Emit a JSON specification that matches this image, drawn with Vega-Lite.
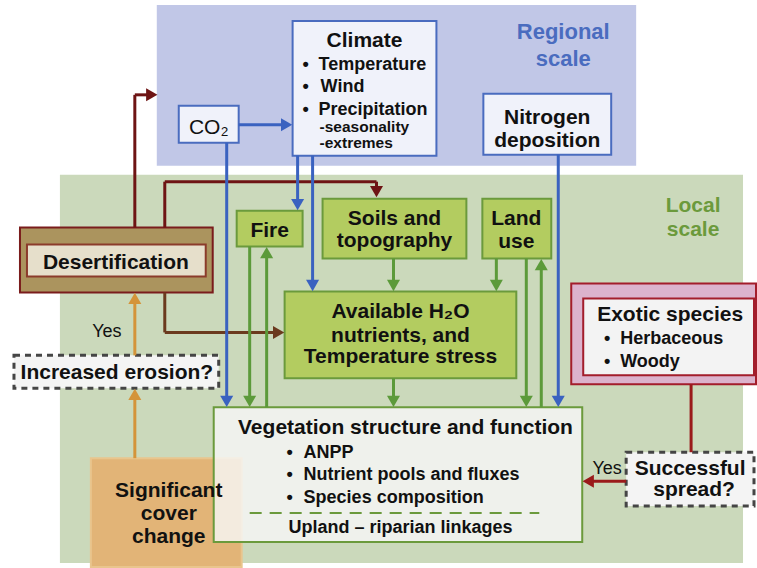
{
  "$schema": "https://vega.github.io/schema/vega-lite/v6.json",
  "width": 757,
  "height": 568,
  "autosize": {"type": "fit", "contains": "padding"},
  "padding": 0,
  "background": "white",
  "config": {"view": {"stroke": null}},
  "layer": [
    {
      "data": {"values": [
        {"name": "Regional scale", "kind": "regional", "x1": 158, "x2": 636, "y1": 6, "y2": 165},
        {"name": "Local scale", "kind": "local", "x1": 61, "x2": 743, "y1": 176, "y2": 563},
        {"name": "Climate", "kind": "blue", "x1": 293, "x2": 437, "y1": 21, "y2": 156},
        {"name": "CO2", "kind": "blue", "x1": 179, "x2": 239, "y1": 106, "y2": 143},
        {"name": "Nitrogen deposition", "kind": "blue", "x1": 484, "x2": 612, "y1": 94, "y2": 155},
        {"name": "Desertification outer", "kind": "desert_outer", "x1": 20, "x2": 213, "y1": 228, "y2": 293},
        {"name": "Desertification", "kind": "desert_inner", "x1": 27, "x2": 206, "y1": 245, "y2": 277},
        {"name": "Fire", "kind": "green", "x1": 237, "x2": 303, "y1": 211, "y2": 247},
        {"name": "Soils and topography", "kind": "green", "x1": 323, "x2": 467, "y1": 199, "y2": 259},
        {"name": "Land use", "kind": "green", "x1": 483, "x2": 552, "y1": 199, "y2": 259},
        {"name": "Available H2O", "kind": "green", "x1": 285, "x2": 517, "y1": 292, "y2": 379},
        {"name": "Exotic outer", "kind": "exotic_outer", "x1": 572, "x2": 757, "y1": 284, "y2": 385},
        {"name": "Exotic species", "kind": "exotic_inner", "x1": 584, "x2": 755, "y1": 299, "y2": 376},
        {"name": "Significant cover change", "kind": "orange", "x1": 91, "x2": 242, "y1": 459, "y2": 568}
      ]},
      "mark": {"type": "rect", "strokeWidth": 2},
      "encoding": {
        "x": {"field": "x1", "type": "quantitative", "scale": {"domain": [0, 757], "nice": false, "zero": false}, "axis": null},
        "x2": {"field": "x2"},
        "y": {"field": "y1", "type": "quantitative", "scale": {"domain": [0, 568], "nice": false, "zero": false, "reverse": true}, "axis": null},
        "y2": {"field": "y2"},
        "fill": {"field": "kind", "type": "nominal", "legend": null, "scale": {
          "domain": ["regional", "local", "blue", "desert_outer", "desert_inner", "green", "exotic_outer", "exotic_inner", "orange"],
          "range": ["#c1c7e7", "#cbd9bb", "#f0f2fa", "#ab945e", "#e6dfcb", "#b3cc60", "#dcb3cd", "#f3f3f3", "#e2b477"]}},
        "stroke": {"field": "kind", "type": "nominal", "legend": null, "scale": {
          "domain": ["regional", "local", "blue", "desert_outer", "desert_inner", "green", "exotic_outer", "exotic_inner", "orange"],
          "range": ["#c1c7e7", "#cbd9bb", "#4a6cbf", "#7a1c1c", "#8b3b2b", "#6b9a3c", "#a31d2b", "#a31d2b", "#e9c58d"]}}
      }
    },
    {
      "data": {"values": [
        {"name": "Vegetation structure and function", "x1": 214, "x2": 583, "y1": 408, "y2": 543}
      ]},
      "mark": {"type": "rect", "fill": "#f7f7f7", "fillOpacity": 0.82, "stroke": "#6b9a3c", "strokeWidth": 2},
      "encoding": {
        "x": {"field": "x1", "type": "quantitative", "scale": {"domain": [0, 757], "nice": false, "zero": false}, "axis": null},
        "x2": {"field": "x2"},
        "y": {"field": "y1", "type": "quantitative", "scale": {"domain": [0, 568], "nice": false, "zero": false, "reverse": true}, "axis": null},
        "y2": {"field": "y2"}
      }
    },
    {
      "data": {"values": [
        {"name": "Increased erosion?", "x1": 14, "x2": 219, "y1": 356, "y2": 389},
        {"name": "Successful spread?", "x1": 627, "x2": 755, "y1": 453, "y2": 507}
      ]},
      "mark": {"type": "rect", "fill": "#f4f4f4", "stroke": "#454545", "strokeWidth": 3, "strokeDash": [6, 5]},
      "encoding": {
        "x": {"field": "x1", "type": "quantitative", "scale": {"domain": [0, 757], "nice": false, "zero": false}, "axis": null},
        "x2": {"field": "x2"},
        "y": {"field": "y1", "type": "quantitative", "scale": {"domain": [0, 568], "nice": false, "zero": false, "reverse": true}, "axis": null},
        "y2": {"field": "y2"}
      }
    },
    {
      "data": {"values": [
        {"x1": 250, "x2": 540, "y1": 514, "y2": 514}
      ]},
      "mark": {"type": "rule", "stroke": "#6b9a3c", "strokeWidth": 2, "strokeDash": [12, 8]},
      "encoding": {
        "x": {"field": "x1", "type": "quantitative", "scale": {"domain": [0, 757], "nice": false, "zero": false}, "axis": null},
        "x2": {"field": "x2"},
        "y": {"field": "y1", "type": "quantitative", "scale": {"domain": [0, 568], "nice": false, "zero": false, "reverse": true}, "axis": null},
        "y2": {"field": "y2"}
      }
    },
    {
      "data": {"values": [
        {"c": "dred", "x1": 135, "y1": 228, "x2": 135, "y2": 95},
        {"c": "dred", "x1": 135, "y1": 95, "x2": 152, "y2": 95},
        {"c": "dred", "x1": 165, "y1": 228, "x2": 165, "y2": 182},
        {"c": "dred", "x1": 165, "y1": 182, "x2": 377, "y2": 182},
        {"c": "dred", "x1": 377, "y1": 182, "x2": 377, "y2": 192},
        {"c": "brown", "x1": 165, "y1": 293, "x2": 165, "y2": 333},
        {"c": "brown", "x1": 165, "y1": 333, "x2": 279, "y2": 333},
        {"c": "blue", "x1": 239, "y1": 125, "x2": 287, "y2": 125},
        {"c": "blue", "x1": 227, "y1": 143, "x2": 227, "y2": 402},
        {"c": "blue", "x1": 298, "y1": 156, "x2": 298, "y2": 205},
        {"c": "blue", "x1": 313, "y1": 156, "x2": 313, "y2": 286},
        {"c": "blue", "x1": 559, "y1": 155, "x2": 559, "y2": 402},
        {"c": "green", "x1": 250, "y1": 247, "x2": 250, "y2": 402},
        {"c": "green", "x1": 267, "y1": 408, "x2": 267, "y2": 253},
        {"c": "green", "x1": 394, "y1": 259, "x2": 394, "y2": 286},
        {"c": "green", "x1": 497, "y1": 259, "x2": 497, "y2": 286},
        {"c": "green", "x1": 527, "y1": 259, "x2": 527, "y2": 402},
        {"c": "green", "x1": 542, "y1": 408, "x2": 542, "y2": 265},
        {"c": "green", "x1": 394, "y1": 379, "x2": 394, "y2": 402},
        {"c": "orange", "x1": 135, "y1": 459, "x2": 135, "y2": 395},
        {"c": "orange", "x1": 135, "y1": 356, "x2": 135, "y2": 299},
        {"c": "red", "x1": 692, "y1": 385, "x2": 692, "y2": 453},
        {"c": "red", "x1": 627, "y1": 482, "x2": 589, "y2": 482}
      ]},
      "mark": {"type": "rule", "strokeWidth": 3},
      "encoding": {
        "x": {"field": "x1", "type": "quantitative", "scale": {"domain": [0, 757], "nice": false, "zero": false}, "axis": null},
        "x2": {"field": "x2"},
        "y": {"field": "y1", "type": "quantitative", "scale": {"domain": [0, 568], "nice": false, "zero": false, "reverse": true}, "axis": null},
        "y2": {"field": "y2"},
        "color": {"field": "c", "type": "nominal", "legend": null, "scale": {
          "domain": ["dred", "brown", "blue", "green", "orange", "red"],
          "range": ["#6e1414", "#6b3a1e", "#3a62c0", "#5c9a3a", "#d4943a", "#9a1a1a"]}}
      }
    },
    {
      "data": {"values": [
        {"c": "dred", "dir": "right", "x": 152, "y": 95},
        {"c": "dred", "dir": "down", "x": 377, "y": 192},
        {"c": "brown", "dir": "right", "x": 279, "y": 333},
        {"c": "blue", "dir": "right", "x": 287, "y": 125},
        {"c": "blue", "dir": "down", "x": 227, "y": 402},
        {"c": "blue", "dir": "down", "x": 298, "y": 205},
        {"c": "blue", "dir": "down", "x": 313, "y": 286},
        {"c": "blue", "dir": "down", "x": 559, "y": 402},
        {"c": "green", "dir": "down", "x": 250, "y": 402},
        {"c": "green", "dir": "up", "x": 267, "y": 253},
        {"c": "green", "dir": "down", "x": 394, "y": 286},
        {"c": "green", "dir": "down", "x": 497, "y": 286},
        {"c": "green", "dir": "down", "x": 527, "y": 402},
        {"c": "green", "dir": "up", "x": 542, "y": 265},
        {"c": "green", "dir": "down", "x": 394, "y": 402},
        {"c": "orange", "dir": "up", "x": 135, "y": 395},
        {"c": "orange", "dir": "up", "x": 135, "y": 299},
        {"c": "red", "dir": "left", "x": 589, "y": 482}
      ]},
      "mark": {"type": "point", "filled": true, "opacity": 1, "size": 170, "strokeWidth": 0},
      "encoding": {
        "x": {"field": "x", "type": "quantitative", "scale": {"domain": [0, 757], "nice": false, "zero": false}, "axis": null},
        "y": {"field": "y", "type": "quantitative", "scale": {"domain": [0, 568], "nice": false, "zero": false, "reverse": true}, "axis": null},
        "color": {"field": "c", "type": "nominal", "legend": null, "scale": {
          "domain": ["dred", "brown", "blue", "green", "orange", "red"],
          "range": ["#6e1414", "#6b3a1e", "#3a62c0", "#5c9a3a", "#d4943a", "#9a1a1a"]}},
        "shape": {"field": "dir", "type": "nominal", "legend": null, "scale": {
          "domain": ["up", "down", "left", "right"],
          "range": ["triangle-up", "triangle-down", "triangle-left", "triangle-right"]}}
      }
    },
    {
      "data": {"values": [
        {"t": "Climate", "x": 365, "y": 47},
        {"t": "Nitrogen", "x": 548, "y": 124},
        {"t": "deposition", "x": 548, "y": 147},
        {"t": "Desertification", "x": 116, "y": 269},
        {"t": "Fire", "x": 270, "y": 237},
        {"t": "Soils and", "x": 395, "y": 225},
        {"t": "topography", "x": 395, "y": 247},
        {"t": "Land", "x": 517, "y": 225},
        {"t": "use", "x": 517, "y": 248},
        {"t": "Available H₂O", "x": 401, "y": 319},
        {"t": "nutrients, and", "x": 401, "y": 343},
        {"t": "Temperature stress", "x": 401, "y": 364},
        {"t": "Exotic species", "x": 671, "y": 322},
        {"t": "Increased erosion?", "x": 117, "y": 380},
        {"t": "Vegetation structure and function", "x": 406, "y": 435},
        {"t": "Significant", "x": 169, "y": 498},
        {"t": "cover", "x": 169, "y": 521},
        {"t": "change", "x": 169, "y": 544},
        {"t": "Successful", "x": 691, "y": 476},
        {"t": "spread?", "x": 695, "y": 497}
      ]},
      "mark": {"type": "text", "font": "Liberation Sans", "fontWeight": "bold", "fontSize": 21, "align": "center", "baseline": "alphabetic", "color": "#111111"},
      "encoding": {
        "x": {"field": "x", "type": "quantitative", "scale": {"domain": [0, 757], "nice": false, "zero": false}, "axis": null},
        "y": {"field": "y", "type": "quantitative", "scale": {"domain": [0, 568], "nice": false, "zero": false, "reverse": true}, "axis": null},
        "text": {"field": "t", "type": "nominal"}
      }
    },
    {
      "data": {"values": [
        {"t": "Temperature", "x": 319, "y": 70},
        {"t": "Wind", "x": 321, "y": 92},
        {"t": "Precipitation", "x": 319, "y": 115},
        {"t": "Herbaceous", "x": 621, "y": 345},
        {"t": "Woody", "x": 621, "y": 368},
        {"t": "ANPP", "x": 304, "y": 459},
        {"t": "Nutrient pools and fluxes", "x": 304, "y": 481},
        {"t": "Species composition", "x": 304, "y": 504}
      ]},
      "mark": {"type": "text", "font": "Liberation Sans", "fontWeight": "bold", "fontSize": 18, "align": "left", "baseline": "alphabetic", "color": "#111111"},
      "encoding": {
        "x": {"field": "x", "type": "quantitative", "scale": {"domain": [0, 757], "nice": false, "zero": false}, "axis": null},
        "y": {"field": "y", "type": "quantitative", "scale": {"domain": [0, 568], "nice": false, "zero": false, "reverse": true}, "axis": null},
        "text": {"field": "t", "type": "nominal"}
      }
    },
    {
      "data": {"values": [
        {"t": "•", "x": 306, "y": 70},
        {"t": "•", "x": 306, "y": 92},
        {"t": "•", "x": 306, "y": 115},
        {"t": "•", "x": 608, "y": 345},
        {"t": "•", "x": 608, "y": 368},
        {"t": "•", "x": 290, "y": 459},
        {"t": "•", "x": 290, "y": 481},
        {"t": "•", "x": 290, "y": 504},
        {"t": "Upland – riparian linkages", "x": 401, "y": 534}
      ]},
      "mark": {"type": "text", "font": "Liberation Sans", "fontWeight": "bold", "fontSize": 18, "align": "center", "baseline": "alphabetic", "color": "#111111"},
      "encoding": {
        "x": {"field": "x", "type": "quantitative", "scale": {"domain": [0, 757], "nice": false, "zero": false}, "axis": null},
        "y": {"field": "y", "type": "quantitative", "scale": {"domain": [0, 568], "nice": false, "zero": false, "reverse": true}, "axis": null},
        "text": {"field": "t", "type": "nominal"}
      }
    },
    {
      "data": {"values": [
        {"t": "-seasonality", "x": 320, "y": 132},
        {"t": "-extremes", "x": 320, "y": 148}
      ]},
      "mark": {"type": "text", "font": "Liberation Sans", "fontWeight": "bold", "fontSize": 15.5, "align": "left", "baseline": "alphabetic", "color": "#111111"},
      "encoding": {
        "x": {"field": "x", "type": "quantitative", "scale": {"domain": [0, 757], "nice": false, "zero": false}, "axis": null},
        "y": {"field": "y", "type": "quantitative", "scale": {"domain": [0, 568], "nice": false, "zero": false, "reverse": true}, "axis": null},
        "text": {"field": "t", "type": "nominal"}
      }
    },
    {
      "data": {"values": [
        {"t": "Regional", "x": 564, "y": 39},
        {"t": "scale", "x": 564, "y": 66}
      ]},
      "mark": {"type": "text", "font": "Liberation Sans", "fontWeight": "bold", "fontSize": 22, "align": "center", "baseline": "alphabetic", "color": "#4a6cbf"},
      "encoding": {
        "x": {"field": "x", "type": "quantitative", "scale": {"domain": [0, 757], "nice": false, "zero": false}, "axis": null},
        "y": {"field": "y", "type": "quantitative", "scale": {"domain": [0, 568], "nice": false, "zero": false, "reverse": true}, "axis": null},
        "text": {"field": "t", "type": "nominal"}
      }
    },
    {
      "data": {"values": [
        {"t": "Local", "x": 694, "y": 212},
        {"t": "scale", "x": 694, "y": 236}
      ]},
      "mark": {"type": "text", "font": "Liberation Sans", "fontWeight": "bold", "fontSize": 21, "align": "center", "baseline": "alphabetic", "color": "#6b9a3c"},
      "encoding": {
        "x": {"field": "x", "type": "quantitative", "scale": {"domain": [0, 757], "nice": false, "zero": false}, "axis": null},
        "y": {"field": "y", "type": "quantitative", "scale": {"domain": [0, 568], "nice": false, "zero": false, "reverse": true}, "axis": null},
        "text": {"field": "t", "type": "nominal"}
      }
    },
    {
      "data": {"values": [
        {"t": "Yes", "x": 107, "y": 338},
        {"t": "Yes", "x": 608, "y": 475}
      ]},
      "mark": {"type": "text", "font": "Liberation Sans", "fontSize": 18, "align": "center", "baseline": "alphabetic", "color": "#111111"},
      "encoding": {
        "x": {"field": "x", "type": "quantitative", "scale": {"domain": [0, 757], "nice": false, "zero": false}, "axis": null},
        "y": {"field": "y", "type": "quantitative", "scale": {"domain": [0, 568], "nice": false, "zero": false, "reverse": true}, "axis": null},
        "text": {"field": "t", "type": "nominal"}
      }
    },
    {
      "data": {"values": [
        {"t": "CO₂", "x": 209, "y": 134}
      ]},
      "mark": {"type": "text", "font": "Liberation Sans", "fontSize": 21, "align": "center", "baseline": "alphabetic", "color": "#111111"},
      "encoding": {
        "x": {"field": "x", "type": "quantitative", "scale": {"domain": [0, 757], "nice": false, "zero": false}, "axis": null},
        "y": {"field": "y", "type": "quantitative", "scale": {"domain": [0, 568], "nice": false, "zero": false, "reverse": true}, "axis": null},
        "text": {"field": "t", "type": "nominal"}
      }
    }
  ]
}
